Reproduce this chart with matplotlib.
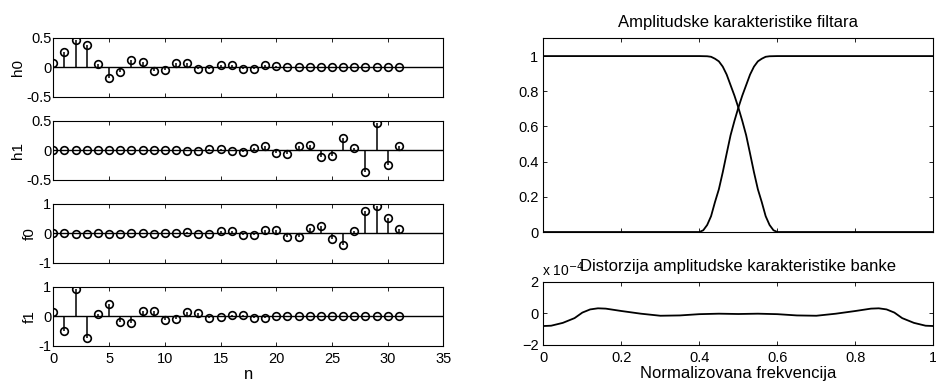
import numpy as np
import matplotlib
matplotlib.use("Agg")
from matplotlib import pyplot as plt

plt.rcParams['font.family'] = ['Liberation Sans', 'DejaVu Sans']
plt.rcParams['font.size'] = 10.5

# filter coefficients (n = 0..31)
n = np.arange(32)
h0 = [0.08, 0.26, 0.455, 0.38, 0.05, -0.185, -0.085, 0.12, 0.09, -0.06,
      -0.055, 0.065, 0.065, -0.03, -0.03, 0.04, 0.04, -0.025, -0.025, 0.035,
      0.015, 0.0, -0.003, 0.012, 0.01, -0.003, -0.003, 0.01, 0.0, -0.002,
      0.008, 0.0]
h1 = [0.005, 0.005, 0.003, -0.003, -0.003, -0.003, 0.005, 0.005, -0.003, -0.003,
      0.008, 0.008, -0.02, -0.02, 0.03, 0.03, -0.02, -0.03, 0.045, 0.065,
      -0.05, -0.055, 0.08, 0.095, -0.11, -0.095, 0.205, 0.045, -0.37, 0.455,
      -0.245, 0.08]
f0 = [0.0, 0.005, -0.005, -0.005, 0.005, -0.005, -0.005, 0.01, 0.005, -0.005,
      0.0, 0.02, 0.06, -0.03, -0.03, 0.07, 0.07, -0.06, -0.06, 0.12,
      0.12, -0.13, -0.13, 0.18, 0.24, -0.18, -0.38, 0.09, 0.76, 0.91,
      0.51, 0.15]
f1 = [0.16, -0.5, 0.92, -0.74, 0.09, 0.42, -0.19, -0.21, 0.2, 0.17,
      -0.12, -0.09, 0.14, 0.12, -0.06, -0.03, 0.06, 0.06, -0.04, -0.04,
      0.01, 0.01, 0.0, 0.0, 0.01, 0.01, 0.0, 0.0, 0.0, 0.01,
      0.01, 0.01]

# amplitude responses (normalized frequency)
freq = [0.0, 0.40, 0.42, 0.43, 0.44, 0.45, 0.46, 0.47, 0.48, 0.49, 0.50,
        0.51, 0.52, 0.53, 0.54, 0.55, 0.56, 0.57, 0.58, 0.59, 0.60, 1.0]
H0 = [1.0, 1.0, 0.999, 0.996, 0.985, 0.97, 0.94, 0.895, 0.835, 0.775, 0.707,
      0.632, 0.55, 0.446, 0.34, 0.243, 0.17, 0.09, 0.04, 0.01, 0.0, 0.0]
H1_freq = [0.0, 0.40, 0.41, 0.42, 0.43, 0.44, 0.45, 0.46, 0.47, 0.48, 0.49, 0.50,
           0.51, 0.52, 0.53, 0.54, 0.55, 0.56, 0.57, 0.58, 0.60, 1.0]
H1 = [0.0, 0.0, 0.01, 0.04, 0.09, 0.17, 0.243, 0.34, 0.446, 0.55, 0.632, 0.707,
      0.775, 0.835, 0.895, 0.94, 0.97, 0.985, 0.996, 0.999, 1.0, 1.0]

# bank distortion, units of 1e-4
dfreq = [0.0, 0.02, 0.05, 0.08, 0.10, 0.12, 0.14, 0.16, 0.20, 0.25, 0.30,
         0.35, 0.40, 0.45, 0.50, 0.55, 0.60, 0.65, 0.70, 0.75, 0.80, 0.84,
         0.86, 0.88, 0.90, 0.92, 0.95, 0.98, 1.0]
dist = [-0.8, -0.78, -0.6, -0.3, 0.05, 0.25, 0.32, 0.3, 0.15, -0.02, -0.15,
        -0.13, -0.05, -0.02, -0.04, -0.02, -0.05, -0.13, -0.15, -0.02, 0.15, 0.3,
        0.32, 0.25, 0.05, -0.3, -0.6, -0.78, -0.8]

fig = plt.figure(figsize=(9.36, 3.81), dpi=100)


def matlab_axes(ax, ypad=2):
    ax.tick_params(direction='in', top=True, right=True, length=3, width=0.6,
                   labelsize=10.5)
    ax.tick_params(axis='x', pad=4)
    ax.tick_params(axis='y', pad=ypad)
    for s in ax.spines.values():
        s.set_linewidth(0.8)


stems = [(h0, 'h0', 0.5), (h1, 'h1', 0.5), (f0, 'f0', 1), (f1, 'f1', 1)]
bottoms = [0.746, 0.528, 0.310, 0.092]
for i, (vals, name, lim) in enumerate(stems):
    ax = fig.add_axes([0.057, bottoms[i], 0.4167, 0.155])
    ax.axhline(0, color='k', lw=1.0)
    ax.vlines(n, 0, vals, color='k', lw=1.1)
    ax.plot(n, vals, 'o', mfc='none', mec='k', ms=5.5, mew=1.2)
    ax.set_xlim(0, 35)
    ax.set_ylim(-lim, lim)
    ax.set_xticks(np.arange(0, 36, 5))
    ax.set_yticks([-lim, 0, lim])
    ax.set_yticklabels([f'{-lim:g}', '0', f'{lim:g}'])
    ax.set_ylabel(name, fontsize=11, labelpad=1)
    matlab_axes(ax, ypad=1.5)
    if i < 3:
        ax.set_xticklabels([])
    else:
        ax.set_xlabel('n', fontsize=12, labelpad=1)

ax = fig.add_axes([0.5805, 0.391, 0.4167, 0.508])
ax.plot(freq, H0, color='k', lw=1.3)
ax.plot(H1_freq, H1, color='k', lw=1.3)
ax.set_xlim(0, 1)
ax.set_ylim(0, 1.1)
ax.set_xticks(np.arange(0, 1.01, 0.2))
ax.set_xticklabels([])
ax.set_yticks([0, 0.2, 0.4, 0.6, 0.8, 1])
ax.set_yticklabels(['0', '0.2', '0.4', '0.6', '0.8', '1'])
ax.set_title('Amplitudske karakteristike filtara', fontsize=12, pad=8)
matlab_axes(ax, ypad=3.5)

ax = fig.add_axes([0.5805, 0.0945, 0.4167, 0.166])
ax.plot(dfreq, dist, color='k', lw=1.3)
ax.set_xlim(0, 1)
ax.set_ylim(-2, 2)
ax.set_xticks(np.arange(0, 1.01, 0.2))
ax.set_xticklabels(['0', '0.2', '0.4', '0.6', '0.8', '1'])
ax.set_yticks([-2, 0, 2])
ax.set_title('Distorzija amplitudske karakteristike banke', fontsize=12, pad=8)
ax.text(-0.003, 1.09, r'x 10$^{-4}$', transform=ax.transAxes, fontsize=10,
        ha='left', va='baseline')
ax.set_xlabel('Normalizovana frekvencija', fontsize=12, labelpad=1)
matlab_axes(ax, ypad=3.5)

fig.savefig('out.png', dpi=100)
